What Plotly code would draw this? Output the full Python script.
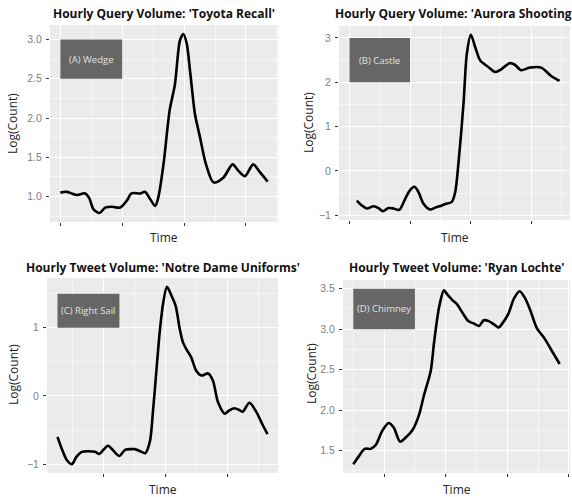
import plotly.graph_objects as go

W, H = 572, 497

# ---------------- data (hours since start, log count) ----------------
titles = [
    "Hourly Query Volume: 'Toyota Recall'",
    "Hourly Query Volume: 'Aurora Shooting'",
    "Hourly Tweet Volume: 'Notre Dame Uniforms'",
    "Hourly Tweet Volume: 'Ryan Lochte'",
]
shape_labels = ["(A) Wedge", "(B) Castle", "(C) Right Sail", "(D) Chimney"]

a_hours = [0, 1.2, 2.2, 3.2, 4.8, 5.6, 6.4, 7.6, 8.7, 10.0, 11.6, 12.9, 13.8, 15.5, 16.4, 17.4, 18.4, 19.0, 20.0, 21.2,
           22.2, 23.2, 23.85, 24.5, 25.2, 26.1, 27.1, 28.2, 29.7, 31.6, 33.4, 34.5, 35.8, 37.4, 38.7, 40.2]
a_log = [1.05, 1.06, 1.04, 1.02, 1.04, 0.98, 0.84, 0.79, 0.86, 0.87, 0.86, 0.95, 1.04, 1.04, 1.06, 0.97, 0.88, 0.99, 1.41, 2.10,
         2.42, 2.99, 3.07, 2.95, 2.57, 2.05, 1.75, 1.42, 1.18, 1.24, 1.41, 1.33, 1.26, 1.41, 1.31, 1.19]

b_hours = [1.45, 2.44, 3.43, 4.76, 5.75, 6.6, 7.73, 8.72, 9.85, 11.04, 11.89, 12.88, 13.67, 14.66, 15.99, 16.98, 17.83, 18.96,
           20.27, 20.94, 21.6, 22.59, 23.24, 24.04, 24.91, 25.9, 27.55, 28.88, 30.05, 31.7, 32.69, 34.02, 35.67, 37.98, 39.96, 41.6]
b_log = [-0.67, -0.78, -0.85, -0.80, -0.84, -0.91, -0.84, -0.85, -0.88, -0.63, -0.45, -0.36, -0.48, -0.74, -0.87, -0.83, -0.80, -0.75,
         -0.70, -0.48, 0.19, 1.53, 2.64, 3.07, 2.79, 2.49, 2.34, 2.23, 2.29, 2.43, 2.40, 2.27, 2.33, 2.33, 2.14, 2.03]

c_hours = [3.0, 3.8, 4.8, 5.8, 6.7, 7.7, 9.0, 10.3, 11.1, 11.9, 12.8, 13.8, 15.0, 16.1, 17.4, 18.0, 19.0, 20.0, 20.9, 21.5,
           22.2, 22.8, 23.5, 24.2, 25.1, 25.9, 26.7, 27.3, 28.1, 28.9, 29.9, 30.9, 32.2, 33.1, 34.1, 35.4, 36.3, 37.3, 38.3, 38.9,
           40.2, 41.5, 42.8, 43.7]
c_log = [-0.60, -0.77, -0.94, -1.00, -0.89, -0.82, -0.81, -0.82, -0.85, -0.79, -0.73, -0.80, -0.88, -0.79, -0.78, -0.78, -0.81, -0.84,
         -0.67, -0.23, 0.40, 0.93, 1.37, 1.60, 1.47, 1.32, 0.98, 0.79, 0.67, 0.57, 0.37, 0.30, 0.33, 0.23, -0.09, -0.26, -0.21, -0.18,
         -0.21, -0.23, -0.10, -0.23, -0.43, -0.56]

d_hours = [0, 1.1, 2.2, 3.4, 4.4, 5.6, 6.9, 7.9, 9.1, 10.2, 11.6, 12.8, 13.75, 15.1, 15.7, 16.7, 17.65, 18.3, 19.3, 20.2,
           21.2, 22.4, 23.5, 24.5, 25.4, 26.4, 27.4, 28.3, 28.9, 30.2, 31.3, 32.4, 33.4, 34.5, 35.7, 37.3, 38.6, 40.2]
d_log = [1.33, 1.43, 1.52, 1.52, 1.57, 1.74, 1.84, 1.78, 1.61, 1.66, 1.76, 1.94, 2.18, 2.49, 2.82, 3.27, 3.48, 3.43, 3.36, 3.31,
         3.21, 3.10, 3.07, 3.04, 3.11, 3.10, 3.06, 3.02, 3.06, 3.19, 3.38, 3.47, 3.39, 3.23, 3.02, 2.88, 2.74, 2.57]

# shape-label boxes (hours, log count)
rect_x = [[0, 12], [0, 12], [3, 15], [0, 12]]
rect_y = [[2.5, 3.0], [2, 3], [1, 1.5], [3, 3.5]]

series_x = [a_hours, b_hours, c_hours, d_hours]
series_y = [a_log, b_log, c_log, d_log]

# ---------------- layout/style ----------------
x_tick0 = [0, 0, 0, 6]
y_dtick = [0.5, 1, 1, 0.5]
y_fmt = [".1f", "d", "d", ".1f"]
boxes = [(50, 25, 278, 222), (339, 26, 570, 220), (47, 278, 278, 473), (343, 280, 570, 473)]  # l,t,r,b px
title_pos = [(164, 14), (455, 14), (162.5, 267), (456.5, 267)]
ylab_pos = [(13, 124), (309, 123), (13, 375), (311, 374)]
xlab_pos = [(164, 237), (455, 237), (162.5, 489), (456.5, 489)]

BG = "#EBEBEB"
TXT_FONT = "Open Sans"
TICK_FONT = "Liberation Sans"


def expand(lo, hi, f=0.05):
    d = hi - lo
    return [lo - f * d, hi + f * d]


fig = go.Figure()
annotations = []
shapes = []
layout = {}

for i in range(4):
    n = "" if i == 0 else str(i + 1)
    xs, ys = series_x[i], series_y[i]
    fig.add_trace(go.Scatter(
        x=xs, y=ys, mode="lines",
        line=dict(color="black", width=2.6, shape="spline", smoothing=0.8),
        xaxis="x" + n, yaxis="y" + n, hoverinfo="skip", showlegend=False))

    l, t, r, b = boxes[i]
    xr = expand(min(min(xs), rect_x[i][0]), max(max(xs), rect_x[i][1]))
    yr = expand(min(min(ys), rect_y[i][0]), max(max(ys), rect_y[i][1]))

    layout["xaxis" + n] = dict(
        domain=[l / W, r / W], anchor="y" + n, range=xr,
        tick0=x_tick0[i], dtick=12, ticks="outside", ticklen=3, tickwidth=1, tickcolor="#333333",
        showticklabels=False, showgrid=True, gridcolor="white", gridwidth=1.2, zeroline=False,
        showline=False, fixedrange=True,
        minor=dict(tick0=0, dtick=6, showgrid=True, gridcolor="rgba(255,255,255,0.55)", gridwidth=0.8, ticks=""),
    )
    layout["yaxis" + n] = dict(
        domain=[1 - b / H, 1 - t / H], anchor="x" + n, range=yr,
        tick0=0, dtick=y_dtick[i], tickformat=y_fmt[i], ticks="outside", ticklen=3, tickwidth=1,
        tickcolor="#333333", tickfont=dict(family=TICK_FONT, size=10.5, color="#808080"),
        ticklabelstandoff=2,
        showgrid=True, gridcolor="white", gridwidth=1.2, zeroline=False, showline=False, fixedrange=True,
        minor=dict(tick0=0, dtick=y_dtick[i] / 2, showgrid=True, gridcolor="rgba(255,255,255,0.55)",
                   gridwidth=0.8, ticks=""),
    )

    shapes.append(dict(type="rect", xref="x" + n, yref="y" + n,
                       x0=rect_x[i][0], x1=rect_x[i][1], y0=rect_y[i][0], y1=rect_y[i][1],
                       fillcolor="#666666", line=dict(width=0), layer="between"))
    annotations.append(dict(x=(rect_x[i][0] + rect_x[i][1]) / 2, y=(rect_y[i][0] + rect_y[i][1]) / 2,
                            xref="x" + n, yref="y" + n, text=shape_labels[i], showarrow=False,
                            font=dict(family=TXT_FONT, size=9.5, color="#E3E3E3")))

    tx, ty = title_pos[i]
    annotations.append(dict(x=tx / W, y=1 - ty / H, xref="paper", yref="paper", text="<b>" + titles[i] + "</b>",
                            showarrow=False, xanchor="center", yanchor="middle",
                            font=dict(family=TXT_FONT, size=12, color="#111111")))
    lx, ly = ylab_pos[i]
    annotations.append(dict(x=lx / W, y=1 - ly / H, xref="paper", yref="paper", text="Log(Count)",
                            showarrow=False, textangle=-90, xanchor="center", yanchor="middle",
                            font=dict(family=TXT_FONT, size=12, color="#222222")))
    bx, by = xlab_pos[i]
    annotations.append(dict(x=bx / W, y=1 - by / H, xref="paper", yref="paper", text="Time",
                            showarrow=False, xanchor="center", yanchor="middle",
                            font=dict(family=TXT_FONT, size=12, color="#222222")))

fig.update_layout(
    width=W, height=H, margin=dict(l=0, r=0, t=0, b=0),
    paper_bgcolor="white", plot_bgcolor=BG,
    annotations=annotations, shapes=shapes, showlegend=False,
    **layout,
)

fig.write_html("out.html", config={"displayModeBar": False},
               post_script="document.body.style.margin='0';document.body.style.padding='0';")
